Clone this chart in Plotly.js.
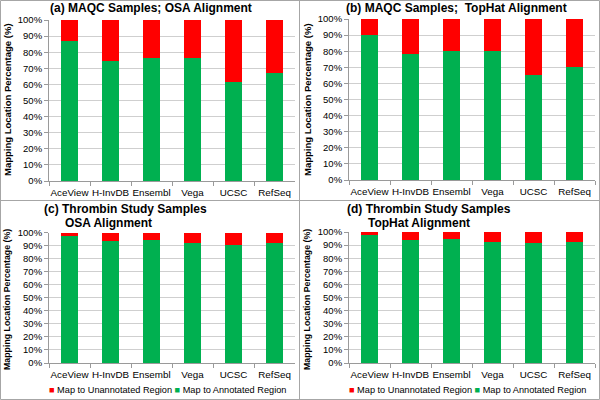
<!DOCTYPE html>
<html>
<head>
<meta charset="utf-8">
<script src="https://cdn.plot.ly/plotly-3.0.1.min.js"></script>
<style>html,body{margin:0;padding:0;background:#fff}#chart{width:600px;height:400px}</style>
</head>
<body>
<div id="chart"></div>
<script>
const categories = ["AceView", "H-InvDB", "Ensembl", "Vega", "UCSC", "RefSeq"];
const seriesNames = ["Map to Unannotated Region", "Map to Annotated Region"];

const maqcOsaAnnotated   = [87.0, 74.7, 76.4, 76.7, 61.7, 67.1];
const maqcOsaUnannotated = [13.0, 25.3, 23.6, 23.3, 38.3, 32.9];

const maqcTophatAnnotated   = [90.2, 78.2, 79.9, 80.3, 65.3, 70.1];
const maqcTophatUnannotated = [9.8, 21.8, 20.1, 19.7, 34.7, 29.9];

const thrombinOsaAnnotated   = [97.7, 93.6, 93.9, 91.6, 90.5, 91.6];
const thrombinOsaUnannotated = [2.3, 6.4, 6.1, 8.4, 9.5, 8.4];

const thrombinTophatAnnotated   = [97.7, 94.1, 94.4, 92.1, 91.6, 92.6];
const thrombinTophatUnannotated = [2.3, 5.9, 5.6, 7.9, 8.4, 7.4];

const GREEN = "#00B050", RED = "#FF0000";
const FONT = "Liberation Sans, Arial, sans-serif";

const panels = [
  {ann: maqcOsaAnnotated, un: maqcOsaUnannotated, xa: "x", ya: "y"},
  {ann: maqcTophatAnnotated, un: maqcTophatUnannotated, xa: "x2", ya: "y2"},
  {ann: thrombinOsaAnnotated, un: thrombinOsaUnannotated, xa: "x3", ya: "y3"},
  {ann: thrombinTophatAnnotated, un: thrombinTophatUnannotated, xa: "x4", ya: "y4"}
];

const data = [];
panels.forEach(p => {
  data.push({type: "bar", x: categories, y: p.ann, name: seriesNames[1], xaxis: p.xa, yaxis: p.ya,
             marker: {color: GREEN}, showlegend: false, hoverinfo: "x+y"});
  data.push({type: "bar", x: categories, y: p.un, name: seriesNames[0], xaxis: p.xa, yaxis: p.ya,
             marker: {color: RED}, showlegend: false, hoverinfo: "x+y"});
});

const W = 600, H = 400;
const px = v => v / W, py = v => 1 - v / H;

function xaxis(d0, d1, anchor) {
  return {domain: [px(d0), px(d1)], anchor: anchor, type: "category", tickangle: 0,
          showline: true, linecolor: "#9A9A9A", linewidth: 1,
          ticks: "outside", tickson: "boundaries", ticklen: 4, tickcolor: "#9A9A9A",
          ticklabelstandoff: 2,
          showgrid: false, tickfont: {family: FONT, size: 9.8, color: "#000"}, fixedrange: true};
}
function yaxis(top, bottom, anchor) {
  return {domain: [py(bottom), py(top)], anchor: anchor, range: [0, 100], dtick: 10,
          ticksuffix: "%", showline: true, linecolor: "#9A9A9A", linewidth: 1,
          ticks: "outside", ticklen: 4, tickcolor: "#9A9A9A",
          showgrid: true, gridcolor: "#CFCFCF", gridwidth: 1, zeroline: false,
          tickfont: {family: FONT, size: 9.5, color: "#000"}, fixedrange: true};
}

const titleFont = {family: FONT, size: 12, color: "#000"};
const axTitleFont = {family: FONT, size: 9.5, color: "#000"};
const legFont = {family: FONT, size: 9.2, color: "#000"};

function ann(text, x, y, opts) {
  return Object.assign({text: text, xref: "paper", yref: "paper", x: px(x), y: py(y),
    showarrow: false, xanchor: "left", yanchor: "middle", font: titleFont}, opts || {});
}

const legendText = '<span style="color:' + RED + '">■</span> ' + seriesNames[0] +
  ' <span style="color:' + GREEN + '">■</span> ' + seriesNames[1];

const annotations = [
  ann("<b>(a) MAQC Samples; OSA Alignment</b>", 48, 8),
  ann("<b>(b) MAQC Samples;  TopHat Alignment</b>", 344, 8),
  ann("<b>(c) Thrombin Study Samples</b>", 42, 209),
  ann("<b>OSA Alignment</b>", 63, 223),
  ann("<b>(d) Thrombin Study Samples</b>", 345, 209),
  ann("<b>TopHat Alignment</b>", 366, 223),
  ann("<b>Mapping Location Percentage (%)</b>", 7, 100, {xanchor: "center", textangle: -90, font: axTitleFont}),
  ann("<b>Mapping Location Percentage (%)</b>", 307, 100, {xanchor: "center", textangle: -90, font: axTitleFont}),
  ann("<b>Mapping Location Percentage (%)</b>", 7, 300, {xanchor: "center", textangle: -90, font: {family: FONT, size: 8.8, color: "#000"}}),
  ann("<b>Mapping Location Percentage (%)</b>", 307, 300, {xanchor: "center", textangle: -90, font: {family: FONT, size: 8.8, color: "#000"}}),
  ann(legendText, 47, 390, {font: legFont}),
  ann(legendText, 347, 390, {font: legFont})
];

const border = "#A6A6A6";
const shapes = [
  {type: "rect", xref: "paper", yref: "paper", x0: px(0.5), x1: px(599.5), y0: py(399.5), y1: py(0.5), line: {color: border, width: 1}},
  {type: "line", xref: "paper", yref: "paper", x0: px(299.5), x1: px(299.5), y0: 0, y1: 1, line: {color: border, width: 1}},
  {type: "line", xref: "paper", yref: "paper", x0: 0, x1: 1, y0: py(200.5), y1: py(200.5), line: {color: border, width: 1}}
];

const layout = {
  width: W, height: H, margin: {l: 0, r: 0, t: 0, b: 0},
  paper_bgcolor: "#fff", plot_bgcolor: "#fff",
  barmode: "stack", bargap: 0.6, showlegend: false,
  xaxis: xaxis(49, 295, "y"), yaxis: yaxis(20, 181, "x"),
  xaxis2: xaxis(349, 595, "y2"), yaxis2: yaxis(19, 180, "x2"),
  xaxis3: xaxis(49, 295, "y3"), yaxis3: yaxis(232.5, 363, "x3"),
  xaxis4: xaxis(349, 595, "y4"), yaxis4: yaxis(232, 363, "x4"),
  annotations: annotations, shapes: shapes,
  font: {family: FONT, color: "#000"}
};

Plotly.newPlot("chart", data, layout, {displayModeBar: false, staticPlot: true});
</script>
</body>
</html>
